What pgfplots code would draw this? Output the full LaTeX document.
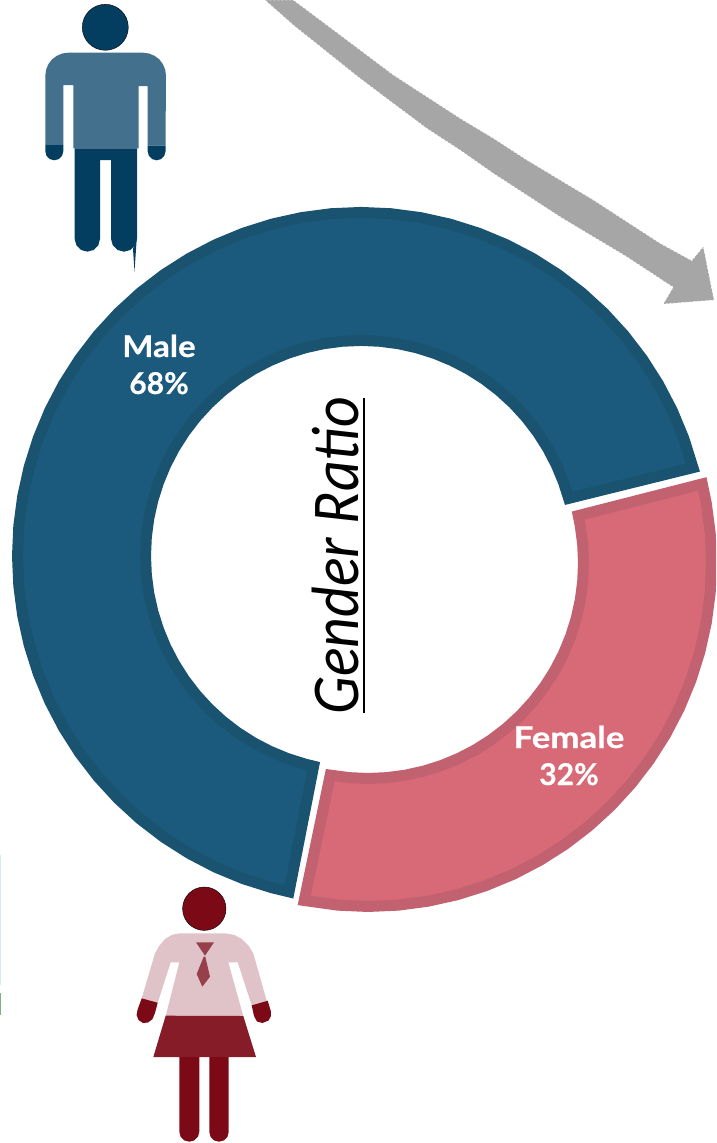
\documentclass[border=0pt]{standalone}
\usepackage{fontspec}
\setmainfont{Lato}
\newfontfamily\titlefont{Carlito}
\newfontfamily\labelfont[BoldFeatures={FakeBold=0.5}]{Lato}
\usepackage{graphicx}
\usepackage{pgfplots}
\usepgfplotslibrary{polar}
\pgfplotsset{compat=1.18}
\definecolor{malefill}{HTML}{1B5A7D}
\definecolor{maleedge}{HTML}{1A5370}
\definecolor{femfill}{HTML}{D86A78}
\definecolor{femedge}{HTML}{C2616F}
\definecolor{manhead}{HTML}{033E60}
\definecolor{manshirt}{HTML}{43708C}
\definecolor{womhead}{HTML}{7C0A16}
\definecolor{womshirt}{HTML}{E0C3C8}
\definecolor{womskirt}{HTML}{851C27}
\definecolor{womtie}{HTML}{973F4B}
\definecolor{arrowgrey}{HTML}{A6A6A6}
\definecolor{slivb}{HTML}{DCE8F5}
\definecolor{slivg}{HTML}{7FB07F}
\pgfplotsset{
  base/.style={scale only axis, width=716pt, height=1143pt, hide axis, at={(0,0)}, anchor=south west},
  pixel/.style={base, xmin=0, xmax=716, ymin=0, ymax=1143, y dir=reverse},
}
\tikzset{
  shape/.style={fill=#1, draw=none, line width=0pt},
  lab/.style={anchor=base, text=white, font=\labelfont\bfseries\fontsize{30}{32}\selectfont},
}
\begin{document}
\begin{tikzpicture}
\path[use as bounding box] (0,0) rectangle (716pt,1143pt);
% ---------- icons and arrow, in picture pixels
\begin{axis}[pixel]
% arrow
\addplot[fill=arrowgrey, draw=white, line width=0.6pt, dash pattern=on 1.5pt off 2.5pt] coordinates {(293.3,0)(326.7,25)(360,50)(393.3,75)(426.7,96.7)(460,118.3)(493.3,138.3)(526.7,160)(560,180)(593.3,200)(626.7,221.7)(660,243.3)(691.7,260.7)(703.3,246.7)(714,300)(663.3,304)(673.3,287.3)(626.7,256.7)(593.3,236.7)(560,216.7)(526.7,195)(493.3,173.3)(460,150)(426.7,128.3)(393.3,103.3)(360,78.3)(326.7,51.7)(293.3,25)(265,0)} --cycle;
% left-edge slivers
\addplot[shape=slivb] coordinates {(0,855)(1,855)(1,985)(0,985)} --cycle;
\addplot[shape=slivg] coordinates {(0,993)(1,993)(1,1015)(0,1015)} --cycle;
% man
\addplot[only marks, mark=*, mark size=23pt, mark options={fill=manhead, draw=none}] coordinates {(105.3,27.3)};
\addplot[shape=manshirt] coordinates {(45.3,75.7)(46.1,69.7)(48.4,64.2)(52,59.4)(56.8,55.8)(62.3,53.5)(68.3,52.7)(143,52.7)(149,53.5)(154.5,55.8)(159.3,59.4)(162.9,64.2)(165.2,69.7)(166,75.7)(165.5,145.7)(147.7,145.7)(147.7,86)(138.7,86)(138.7,148.3)(73.3,148.3)(73.3,85)(63.3,85)(63.3,144.3)(45.3,144.3)} --cycle;
\addplot[shape=manhead] coordinates {(45.3,144.3)(63.3,144.3)(63.3,151.3)(62.1,155.8)(58.8,159.1)(54.3,160.3)(49.8,159.1)(46.5,155.8)(45.3,151.3)} --cycle;
\addplot[shape=manhead] coordinates {(147.7,145.7)(165.5,145.7)(165.5,151.4)(164.3,155.85)(161.05,159.1)(156.6,160.3)(152.15,159.1)(148.9,155.85)(147.7,151.4)} --cycle;
\addplot[shape=manhead] coordinates {(74.7,148.3)(137,148.3)(137,238.7)(135.3,245.2)(130.5,249.96)(124,251.7)(117.5,249.96)(112.7,245.2)(111,238.7)(111,160)(100,160)(100,239)(98.3,245.3)(93.7,249.95)(87.35,251.65)(81,249.95)(76.4,245.3)(74.7,239)} --cycle;
\addplot[shape=manhead] coordinates {(133,249)(134.5,271.5)(136.9,236)} --cycle;
% woman
\addplot[only marks, mark=*, mark size=21.7pt, mark options={fill=womhead, draw=none}] coordinates {(204.3,908.7)};
\addplot[shape=womshirt] coordinates {(180,933.3)(172,934.8)(165,939)(159.5,945.5)(155,953.3)(141.7,998.3)(157.7,1002.7)(170.7,962.3)(179.3,962.3)(165.7,1016)(243.3,1016)(228.3,962.3)(237.7,962.3)(251.7,1005.3)(266.7,1000.7)(253.3,953.3)(248.5,945.5)(242,939)(234,934.8)(225,933.3)} --cycle;
\addplot[shape=womhead] coordinates {(141.7,998.3)(157.7,1002.7)(155,1013)(152.5,1019)(148,1022.5)(143,1023)(138.5,1020)(136.6,1015)(137.5,1010)} --cycle;
\addplot[shape=womhead] coordinates {(251.7,1005.3)(267.7,1000.7)(270.8,1011)(271,1016)(268.5,1020.5)(262.5,1023)(257,1021.5)(254,1016)} --cycle;
\addplot[shape=womskirt] coordinates {(165.7,1015.7)(243.3,1016)(256,1057)(153.3,1057)} --cycle;
\addplot[shape=womhead] coordinates {(179.3,1057)(199.3,1057)(199.3,1131.7)(198,1136.7)(194.3,1140.4)(189.3,1141.7)(184.3,1140.4)(180.6,1136.7)(179.3,1131.7)} --cycle;
\addplot[shape=womhead] coordinates {(209.3,1057)(228.7,1057)(228.7,1132)(227.4,1136.85)(223.85,1140.4)(219,1141.7)(214.15,1140.4)(210.6,1136.85)(209.3,1132)} --cycle;
\addplot[shape=womtie] coordinates {(196,942.3)(214,942.3)(205,955.7)} --cycle;
\addplot[shape=womtie] coordinates {(203.7,956.7)(205.3,956.7)(210,976.7)(202.3,986.7)(196.7,974)} --cycle;
\end{axis}
% ---------- Male slice: 68% (14.0 to 258.8 degrees), centre (361,556)
\begin{axis}[base, xmin=-361, xmax=355, ymin=-587, ymax=556]
\addplot[data cs=polar, fill=malefill, draw=maleedge, line width=11pt, line join=miter] coordinates {
(14.9,343.5)(20,343.5)(25,343.5)(30,343.5)(35,343.5)(40,343.5)(45,343.5)(50,343.5)(55,343.5)(60,343.5)
(65,343.5)(70,343.5)(75,343.5)(80,343.5)(85,343.5)(90,343.5)(95,343.5)(100,343.5)(105,343.5)(110,343.5)
(115,343.5)(120,343.5)(125,343.5)(130,343.5)(135,343.5)(140,343.5)(145,343.5)(150,343.5)(155,343.5)(160,343.5)
(165,343.5)(170,343.5)(175,343.5)(180,343.5)(185,343.5)(190,343.5)(195,343.5)(200,343.5)(205,343.5)(210,343.5)
(215,343.5)(220,343.5)(225,343.5)(230,343.5)(235,343.5)(240,343.5)(245,343.5)(250,343.5)(255,343.5)(257.9,343.5)
(257.3,215.5)(255,215.5)(250,215.5)(245,215.5)(240,215.5)(235,215.5)(230,215.5)(225,215.5)(220,215.5)(215,215.5)
(210,215.5)(205,215.5)(200,215.5)(195,215.5)(190,215.5)(185,215.5)(180,215.5)(175,215.5)(170,215.5)(165,215.5)
(160,215.5)(155,215.5)(150,215.5)(145,215.5)(140,215.5)(135,215.5)(130,215.5)(125,215.5)(120,215.5)(115,215.5)
(110,215.5)(105,215.5)(100,215.5)(95,215.5)(90,215.5)(85,215.5)(80,215.5)(75,215.5)(70,215.5)(65,215.5)
(60,215.5)(55,215.5)(50,215.5)(45,215.5)(40,215.5)(35,215.5)(30,215.5)(25,215.5)(20,215.5)(15.5,215.5)
} --cycle;
\end{axis}
% ---------- Female slice: 32% (258.4 to 374.2 degrees), centre (368,563)
\begin{axis}[base, xmin=-368, xmax=348, ymin=-580, ymax=563]
\addplot[data cs=polar, fill=femfill, draw=femedge, line width=11pt, line join=miter] coordinates {
(259.3,343.5)(265,343.5)(270,343.5)(275,343.5)(280,343.5)(285,343.5)(290,343.5)(295,343.5)(300,343.5)(305,343.5)
(310,343.5)(315,343.5)(320,343.5)(325,343.5)(330,343.5)(335,343.5)(340,343.5)(345,343.5)(350,343.5)(355,343.5)
(360,343.5)(365,343.5)(370,343.5)(373.3,343.5)
(372.7,215.5)(370,215.5)(365,215.5)(360,215.5)(355,215.5)(350,215.5)(345,215.5)(340,215.5)(335,215.5)(330,215.5)
(325,215.5)(320,215.5)(315,215.5)(310,215.5)(305,215.5)(300,215.5)(295,215.5)(290,215.5)(285,215.5)(280,215.5)
(275,215.5)(270,215.5)(265,215.5)(259.9,215.5)
} --cycle;
\end{axis}
% ---------- text
\begin{axis}[pixel]
\addplot[black, line width=2.7pt] coordinates {(364,398)(364,713)};
\node[lab] at (axis cs:159,357) {\scalebox{1.1}[1]{Male}};
\node[lab] at (axis cs:159,394) {68\%};
\node[lab] at (axis cs:569,748) {\scalebox{1.16}[1]{Female}};
\node[lab] at (axis cs:569,785) {32\%};
\node[anchor=base, rotate=90, text=black, inner sep=0pt, font=\titlefont\itshape\fontsize{72}{76}\selectfont] at (axis cs:358,556) {\scalebox{0.83}[0.93]{Gender Ratio}};
\end{axis}
\end{tikzpicture}
\end{document}
